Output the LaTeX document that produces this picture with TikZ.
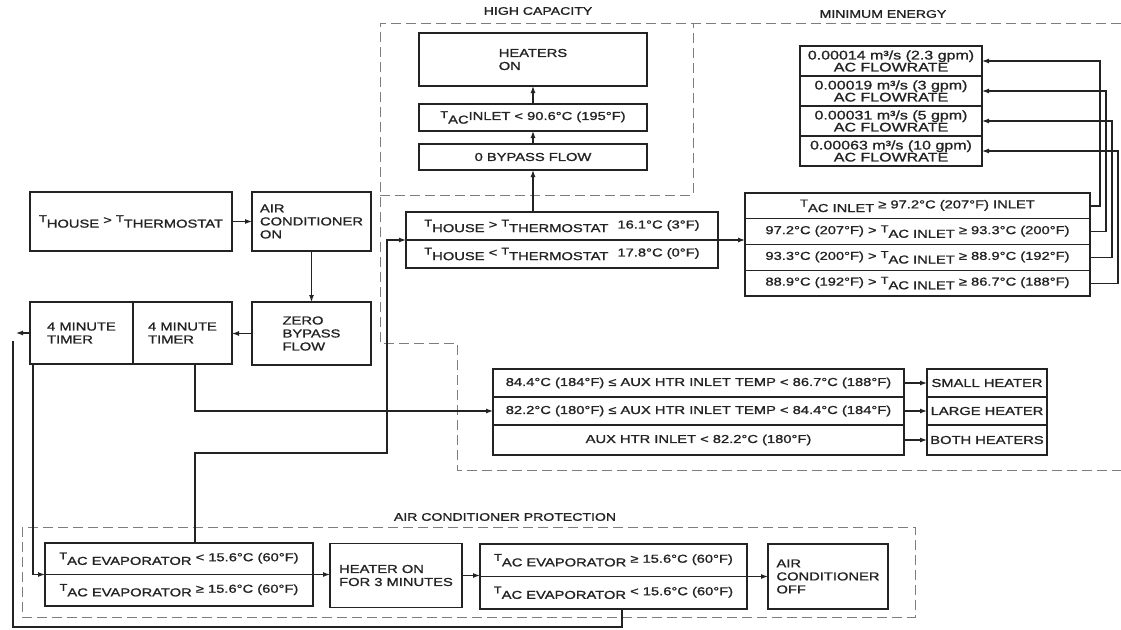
\documentclass[tikz,border=0pt]{standalone}
\usepackage{fontspec}
\setmainfont{Liberation Sans}[FakeStretch=1.28,FakeBold=1.2]
\usepackage{tikz}
\usetikzlibrary{arrows.meta,positioning}
\definecolor{ink}{RGB}{35,35,35}
\definecolor{zoneline}{RGB}{125,125,125}
\newcommand{\tsub}[1]{\raisebox{0.3ex}{\fontsize{10}{10}\selectfont T}\raisebox{-0.6ex}{#1}}

\begin{document}
\begin{tikzpicture}[
      x=1pt,
      y=-1pt,
      box/.style={
        draw=ink,
        line width=1.3pt,
        fill=white,
        text=ink,
        align=center,
        inner sep=0pt,
        outer sep=0pt,
        font=\fontsize{11.5}{13}\selectfont
      },
      textbox/.style={box, align=left},
      rate/.style={box, minimum width=182pt, minimum height=30pt,
        font=\fontsize{12.5}{12}\selectfont},
      inlet/.style={box, minimum width=345pt, minimum height=25.75pt},
      aux/.style={box, minimum width=411pt},
      heater/.style={box, minimum width=120pt},
      evap/.style={box, minimum width=268pt, minimum height=31.5pt},
      flow/.style={-{Latex[length=7pt,width=5pt]}, line width=1.2pt, draw=ink},
      wire/.style={line width=1.2pt, draw=ink},
      zone/.style={draw=zoneline, line width=0.8pt, dash pattern=on 10pt off 5pt},
      zonelabel/.style={text=ink, inner sep=0pt, font=\fontsize{11}{12}\selectfont}
    ]
    \fill[white] (0,0) rectangle (1121,629);
    \useasboundingbox (0,0) rectangle (1121,629);

    \draw[zone] (380,195) -- (693,195) -- (693,23);
    \draw[zone] (1121,23) -- (380,23) -- (380,343) -- (457,343) -- (457,470)
      -- (1121,470);
    \draw[zone] (22,527) rectangle (915,617);

    \node[zonelabel] (hcLabel) at (538,11) {HIGH CAPACITY};
    \node[zonelabel] (meLabel) at (883,14) {MINIMUM ENERGY};
    \node[zonelabel] (acpLabel) at (505,517) {AIR CONDITIONER PROTECTION};

    \node[box, minimum width=202pt, minimum height=59pt] (hotCall) at (131,221.5)
      {\tsub{HOUSE} > \tsub{THERMOSTAT}};
    \node[textbox, minimum width=119pt, minimum height=59pt] (acOn) at (311.5,221.5)
      {AIR\\CONDITIONER\\ON};
    \node[textbox, minimum width=119pt, minimum height=63pt] (zeroBp) at (311.5,333.5)
      {ZERO\\BYPASS\\FLOW};
    \node[textbox, minimum width=103pt, minimum height=62pt] (timerA) at (81.5,333)
      {4 MINUTE\\TIMER};
    \node[textbox, minimum width=99pt, minimum height=62pt] (timerB) at (182.5,333)
      {4 MINUTE\\TIMER};

    \node[textbox, minimum width=228pt, minimum height=53pt] (heatersOn) at (533,59.5)
      {HEATERS\\ON};
    \node[box, minimum width=228pt, minimum height=27pt] (inletHC) at (533,117.5)
      {\tsub{AC}INLET < 90.6°C (195°F)};
    \node[box, minimum width=228pt, minimum height=26pt] (zeroFlow) at (533,157)
      {0 BYPASS FLOW};

    \node[rate] (rate1) at (891,61) {0.00014 m³/s (2.3 gpm)\\AC FLOWRATE};
    \node[rate, below=0pt of rate1] (rate2) {0.00019 m³/s (3 gpm)\\AC FLOWRATE};
    \node[rate, below=0pt of rate2] (rate3) {0.00031 m³/s (5 gpm)\\AC FLOWRATE};
    \node[rate, below=0pt of rate3] (rate4) {0.00063 m³/s (10 gpm)\\AC FLOWRATE};

    \node[box, minimum width=312pt, minimum height=28pt] (tempHi) at (562,226)
      {\tsub{HOUSE} > \tsub{THERMOSTAT}\hspace{5pt} 16.1°C (3°F)};
    \node[box, minimum width=312pt, minimum height=28pt, below=0pt of tempHi] (tempLo)
      {\tsub{HOUSE} < \tsub{THERMOSTAT}\hspace{5pt} 17.8°C (0°F)};

    \node[inlet] (inlet1) at (917.5,205.9)
      {\tsub{AC INLET} ≥ 97.2°C (207°F) INLET};
    \node[inlet, below=0pt of inlet1] (inlet2)
      {97.2°C (207°F) > \tsub{AC INLET} ≥ 93.3°C (200°F)};
    \node[inlet, below=0pt of inlet2] (inlet3)
      {93.3°C (200°F) > \tsub{AC INLET} ≥ 88.9°C (192°F)};
    \node[inlet, below=0pt of inlet3] (inlet4)
      {88.9°C (192°F) > \tsub{AC INLET} ≥ 86.7°C (188°F)};

    \node[aux, minimum height=28pt] (aux1) at (698.5,383)
      {84.4°C (184°F) ≤ AUX HTR INLET TEMP < 86.7°C (188°F)};
    \node[aux, minimum height=28pt, below=0pt of aux1] (aux2)
      {82.2°C (180°F) ≤ AUX HTR INLET TEMP < 84.4°C (184°F)};
    \node[aux, minimum height=30pt, below=0pt of aux2] (aux3)
      {AUX HTR INLET < 82.2°C (180°F)};
    \node[heater, minimum height=28pt] (heater1) at (987,383) {SMALL HEATER};
    \node[heater, minimum height=28pt, below=0pt of heater1] (heater2) {LARGE HEATER};
    \node[heater, minimum height=30pt, below=0pt of heater2] (heater3) {BOTH HEATERS};

    \node[evap] (evapLo) at (179,558.75)
      {\tsub{AC EVAPORATOR} < 15.6°C (60°F)};
    \node[evap, below=0pt of evapLo] (evapHi)
      {\tsub{AC EVAPORATOR} ≥ 15.6°C (60°F)};
    \node[textbox, minimum width=132pt, minimum height=64pt] (heat3min) at (396,575.5)
      {HEATER ON\\FOR 3 MINUTES};
    \node[evap, minimum width=267pt, minimum height=32.5pt] (checkHi) at (613.5,560.25)
      {\tsub{AC EVAPORATOR} ≥ 15.6°C (60°F)};
    \node[evap, minimum width=267pt, minimum height=32.5pt, below=0pt of checkHi] (checkLo)
      {\tsub{AC EVAPORATOR} < 15.6°C (60°F)};
    \node[textbox, minimum width=120pt, minimum height=65pt] (acOff) at (828,576.5)
      {AIR\\CONDITIONER\\OFF};

    \coordinate (loopTip) at (16,333);
    \coordinate (loopTop) at (13,341);
    \coordinate (loopCorner) at (13,627);
    \coordinate (jog) at (387,453);

    \draw[flow] (hotCall) -- (acOn);
    \draw[flow] (acOn) -- (zeroBp);
    \draw[flow] (zeroBp.west) -- (zeroBp.west -| timerB.east);
    \draw[flow] (timerA.west) -- (loopTip);
    \draw[flow] ([xshift=3pt]timerA.south west) |- (evapLo.south west);
    \draw[flow] ([xshift=12.5pt]timerB.south) |- (aux2.west);
    \draw[flow] ([xshift=16pt]evapLo.north) |- (jog) |- (tempHi.south west);

    \draw[flow] (zeroFlow.south |- tempHi.north) -- (zeroFlow);
    \draw[flow] (zeroFlow) -- (inletHC);
    \draw[flow] (inletHC) -- (heatersOn);
    \draw[flow] (tempHi.south east) -- (tempHi.south east -| inlet2.west);

    \foreach \row/\dx in {1/10,2/16,3/22,4/28}
      \draw[flow] (inlet\row.east) -- ++(\dx,0) |- (rate\row.east);
    \foreach \row in {1,2,3}
      \draw[flow] (aux\row) -- (heater\row);

    \draw[flow] (evapLo.south east) -- (evapLo.south east -| heat3min.west);
    \draw[flow] (heat3min.east) -- (heat3min.east -| checkHi.west);
    \draw[flow] (checkHi.south east) -- (acOff.west);
    \draw[wire] ([xshift=8.5pt]checkLo.south) |- (loopCorner) -- (loopTop);
  \end{tikzpicture}
\end{document}
